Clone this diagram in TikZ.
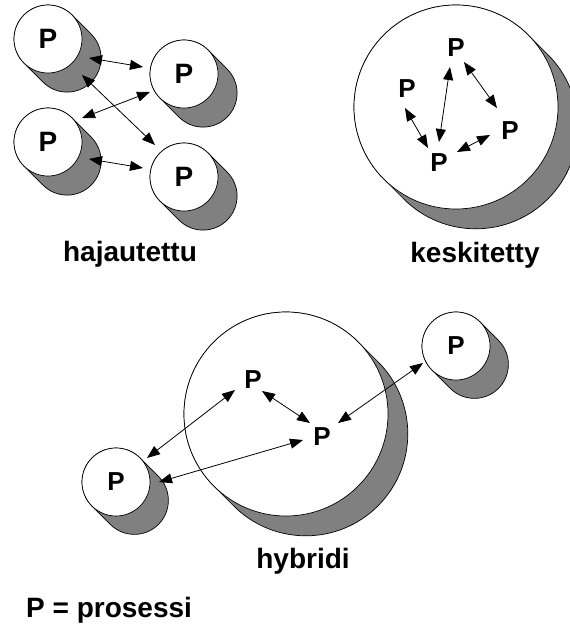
\documentclass[tikz,border=0pt]{standalone}
\usepackage{fontspec}
\setmainfont{Liberation Sans}
\usetikzlibrary{calc,arrows.meta}
\definecolor{sidegrey}{RGB}{128,128,128}
\tikzset{
  pl/.style={font=\fontsize{26}{26}\selectfont\bfseries, inner sep=0pt},
  plbig/.style={font=\fontsize{28}{28}\selectfont\bfseries, inner sep=0pt},
  caption/.style={font=\fontsize{28}{28}\selectfont\bfseries, inner sep=0pt, anchor=base},
  arr/.style={{Triangle[length=13pt,width=10pt]}-{Triangle[length=13pt,width=10pt]}, line width=0.8pt},
  disc/.style={circle, draw=black, fill=white, line width=0.7pt, inner sep=0pt},
}
% a white disc with a grey extruded side toward the lower right
\newcommand\procdisc[4]{% name, centre, radius, depth
  \fill[sidegrey, draw=black, line width=0.7pt]
    ($(#2)+(45:#3pt)$) arc[start angle=45, end angle=225, radius=#3pt]
    -- ++(-45:#4pt) arc[start angle=225, end angle=405, radius=#3pt] -- cycle;
  \node[disc, minimum size=2*#3pt] (#1) at (#2) {};
}
\begin{document}
\begin{tikzpicture}[x=1pt,y=1pt]
\useasboundingbox (0,0) rectangle (570,-624);
\clip (0,0) rectangle (570,-624);

% distributed
\procdisc{h1}{48,-39}{34}{27}
\procdisc{h2}{184,-74}{34}{27}
\procdisc{h3}{48,-142}{34}{27}
\procdisc{h4}{184,-177}{34}{27}
\foreach \n in {h1,h2,h3,h4} \node[plbig] at (\n) {P};
\draw[arr] ($(h1)+(41,-19)$) -- ($(h2)+(-41,7)$);
\draw[arr] ($(h1)+(34,-36)$) -- ($(h4)+(-29,32)$);
\draw[arr] ($(h3)+(34,24)$) -- ($(h2)+(-34,-18)$);
\draw[arr] ($(h3)+(41,-17)$) -- ($(h4)+(-41,9)$);
\node[caption] (cap1) at (130,-261) {hajautettu};

% centralised
\procdisc{k}{456,-107}{102}{28}
\node[pl] (kt) at (456,-48) {P};
\node[pl] (kl) at (407,-89) {P};
\node[pl] (kr) at (510,-131) {P};
\node[pl] (kb) at (439,-163) {P};
\draw[arr] ($(kl)+(-2,-19)$) -- ($(kb)+(-11,15)$);
\draw[arr] ($(kt)+(-6,-19)$) -- ($(kb)+(0,21)$);
\draw[arr] ($(kt)+(8,-14)$) -- ($(kr)+(-13,23)$);
\draw[arr] ($(kb)+(18,11)$) -- ($(kr)+(-20,-4)$);
\node[caption] (cap2) at (475,-262) {keskitetty};

% hybrid
\procdisc{y}{286,-414}{102}{28}
\procdisc{yl}{116,-482}{34}{26}
\procdisc{yr}{456,-346}{34}{26}
\node[pl] at (yl) {P};
\node[pl] at (yr) {P};
\node[pl] (y1) at (253,-380) {P};
\node[pl] (y2) at (322,-437) {P};
\draw[arr] ($(yl)+(31,24)$) -- ($(y1)+(-18,-10)$);
\draw[arr] ($(yl)+(43,0)$) -- ($(y2)+(-19,-3)$);
\draw[arr] ($(y1)+(9,-11)$) -- ($(y2)+(-12,14)$);
\draw[arr] ($(y2)+(16,14)$) -- ($(yr)+(-33,-17)$);
\node[caption] (cap3) at (303,-568) {hybridi};

\node[caption, anchor=base west] (legend) at (26,-617) {P = prosessi};
\end{tikzpicture}
\end{document}
